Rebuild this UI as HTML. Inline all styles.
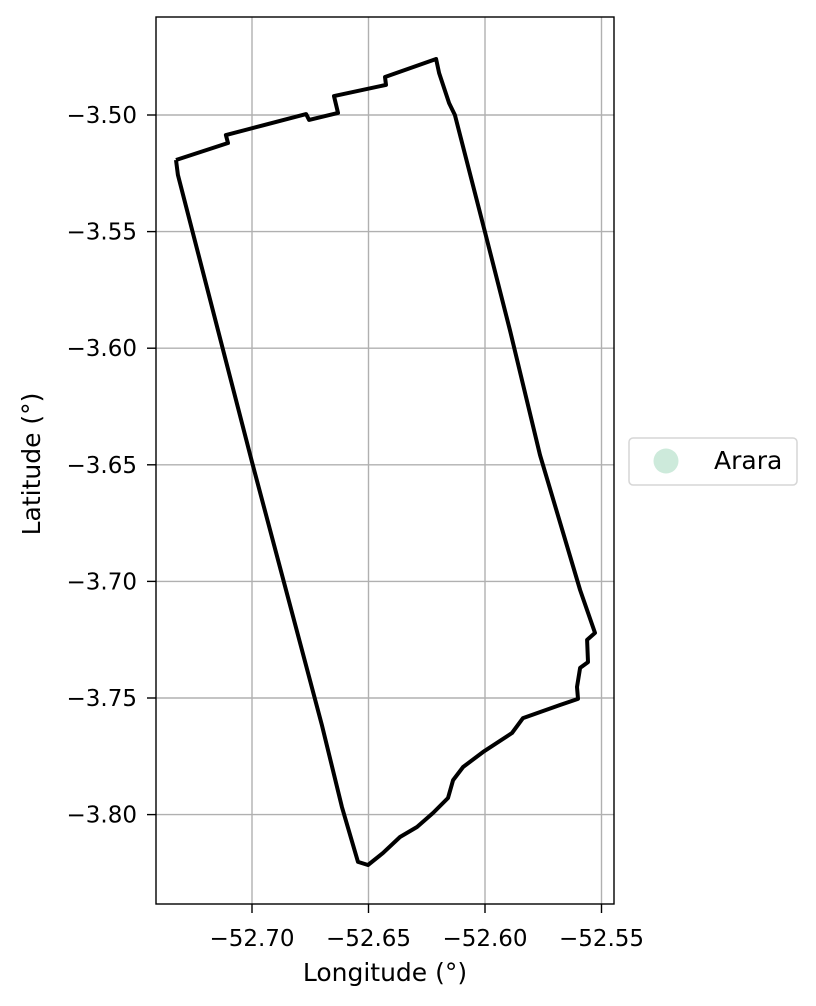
<!DOCTYPE html>
<html><head><meta charset="utf-8"><style>
body{margin:0;background:#fff;}
svg{display:block;font-family:"DejaVu Sans","Liberation Sans",sans-serif;}
</style></head><body>
<svg id="chart" width="816" height="1006" xmlns="http://www.w3.org/2000/svg">
<g id="grid"></g>
<path id="poly" fill="none" stroke="#000" stroke-width="4" stroke-linejoin="round"/>
<rect x="156" y="17" width="458" height="887" fill="none" stroke="#000" stroke-width="1.4"/>
<g id="ticks"></g>
<text x="385" y="981" font-size="25" text-anchor="middle">Longitude (°)</text>
<text transform="translate(40,464) rotate(-90)" font-size="25" text-anchor="middle">Latitude (°)</text>
<g>
<rect x="629" y="438" width="168" height="47" rx="4" fill="#fff" stroke="#d6d6d6" stroke-width="1.5"/>
<circle cx="666" cy="461" r="12.5" fill="#cdeadb"/>
<text x="714" y="469" font-size="25">Arara</text>
</g>
</svg>
<script>
const xTicks=[-52.70,-52.65,-52.60,-52.55];
const xTickLabels=["−52.70","−52.65","−52.60","−52.55"];
const yTicks=[-3.50,-3.55,-3.60,-3.65,-3.70,-3.75,-3.80];
const yTickLabels=["−3.50","−3.55","−3.60","−3.65","−3.70","−3.75","−3.80"];
const lons=[-52.7326,-52.7318,-52.700,-52.6700,-52.6614,-52.6545,-52.6502,-52.6438,-52.6365,-52.6292,-52.6223,-52.6159,-52.6137,-52.6094,-52.6009,-52.5884,-52.5837,-52.5678,-52.5601,-52.5605,-52.5592,-52.5558,-52.5562,-52.5528,-52.5592,-52.5764,-52.5893,-52.6000,-52.6129,-52.6154,-52.6197,-52.6210,-52.6429,-52.6425,-52.6648,-52.6631,-52.6755,-52.6768,-52.7112,-52.7103,-52.7326];
const lats=[-3.5193,-3.5257,-3.6488,-3.7616,-3.7967,-3.8203,-3.8216,-3.8165,-3.8096,-3.8053,-3.7993,-3.7929,-3.7852,-3.7796,-3.7732,-3.7650,-3.7586,-3.7530,-3.7504,-3.7453,-3.7371,-3.7346,-3.7251,-3.7221,-3.7037,-3.6458,-3.5922,-3.5502,-3.5000,-3.4949,-3.4820,-3.4760,-3.4837,-3.4871,-3.4919,-3.4991,-3.5021,-3.4996,-3.5086,-3.5120,-3.5193];
const X=v=>252+(v+52.70)/0.05*116.5;
const Y=v=>115+(-3.50-v)/0.05*116.6;
const NS="http://www.w3.org/2000/svg";
const grid=document.getElementById('grid'),ticks=document.getElementById('ticks');
function mk(p,tag,a){const e=document.createElementNS(NS,tag);for(const k in a)e.setAttribute(k,a[k]);p.appendChild(e);return e;}
xTicks.forEach((t,i)=>{const x=X(t);
const g=mk(grid,'line',{x1:x,x2:x,y1:17,y2:904,stroke:'#b0b0b0','stroke-width':1.4});


const tk=mk(ticks,'line',{x1:x,x2:x,y1:904,y2:913,stroke:'#000','stroke-width':1.4});


const tx=mk(ticks,'text',{x:x,y:946,'font-size':23,'text-anchor':'middle'});tx.textContent=xTickLabels[i];

});
yTicks.forEach((t,i)=>{const y=Y(t);
const g=mk(grid,'line',{x1:156,x2:614,y1:y,y2:y,stroke:'#b0b0b0','stroke-width':1.4});


const tk=mk(ticks,'line',{x1:147,x2:156,y1:y,y2:y,stroke:'#000','stroke-width':1.4});


const tx=mk(ticks,'text',{x:137,y:y+8,'font-size':23,'text-anchor':'end'});tx.textContent=yTickLabels[i];

});
document.getElementById('poly').setAttribute('d',lons.map((v,i)=>(i?'L':'M')+X(v).toFixed(1)+','+Y(lats[i]).toFixed(1)).join(' '));
</script>
</body></html>
